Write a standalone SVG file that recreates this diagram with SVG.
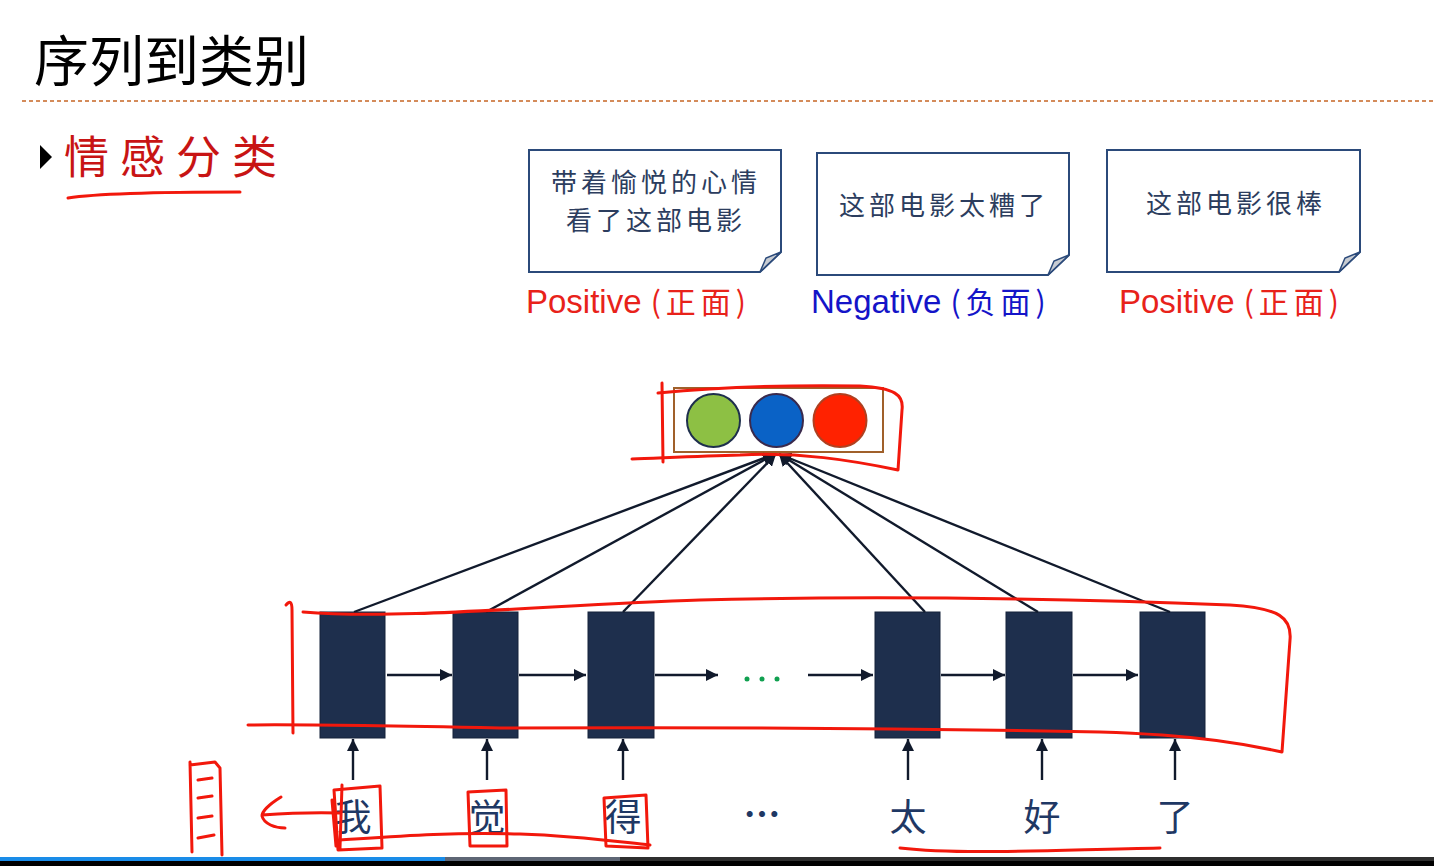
<svg xmlns="http://www.w3.org/2000/svg" width="1434" height="866" viewBox="0 0 1434 866">
<defs>
<style>
.cell{fill:#1E2F4D;stroke:#15223A;stroke-width:1}
.conn{stroke:#111a2c;stroke-width:2.4;fill:none}
.note{fill:#fff;stroke:#2B4A7A;stroke-width:2}
.fold{fill:#c8ccd2;stroke:#2B4A7A;stroke-width:1.5}
.kt{font-family:"Noto Sans CJK SC","Noto Sans CJK TC",sans-serif;fill:#2C3D5E}
.lbl{font-family:"Liberation Sans","Noto Sans CJK SC",sans-serif;font-size:33px}
.par{font-family:"Noto Sans CJK SC",sans-serif;font-size:30px;letter-spacing:5px}
.word{font-family:"Noto Sans CJK SC",serif;font-size:37px;fill:#1F3864;text-anchor:middle}
.ink{fill:none;stroke:#F2180C;stroke-width:3;stroke-linecap:round;stroke-linejoin:round}
</style>
<marker id="ah" viewBox="0 0 10 10" refX="10" refY="5" markerWidth="5" markerHeight="5" orient="auto" markerUnits="strokeWidth">
<path d="M0,0 L10,5 L0,10 Z" fill="#111a2c"/>
</marker>
</defs>
<rect width="1434" height="866" fill="#fff"/>

<g id="title">
<text x="34" y="81" font-family="Noto Sans CJK SC,sans-serif" font-size="55" fill="#000">序列到类别</text>
<line x1="22" y1="101" x2="1434" y2="101" stroke="#D48B5A" stroke-width="2" stroke-dasharray="4,3"/>
</g>

<g id="bullet">
<path d="M40,145 L52,157 L40,169 Z" fill="#000"/>
<text x="64" y="174" font-family="Noto Sans CJK SC,sans-serif" font-size="45" fill="#C81414" letter-spacing="11">情感分类</text>
</g>

<g id="note1">
<path class="note" d="M529,150 H781 V252 L760,272 H529 Z"/>
<path class="fold" d="M760,272 L766,258 L781,252 Z"/>
<text class="kt" x="656" y="192" font-size="26" text-anchor="middle" letter-spacing="4">带着愉悦的心情</text>
<text class="kt" x="656" y="230" font-size="26" text-anchor="middle" letter-spacing="4">看了这部电影</text>
<text class="lbl" x="526" y="313" fill="#E8221A">Positive <tspan class="par">(正面)</tspan></text>
</g>

<g id="note2">
<path class="note" d="M817,153 H1069 V255 L1048,275 H817 Z"/>
<path class="fold" d="M1048,275 L1054,261 L1069,255 Z"/>
<text class="kt" x="944" y="215" font-size="26" text-anchor="middle" letter-spacing="4">这部电影太糟了</text>
<text class="lbl" x="811" y="313" fill="#1414C8">Negative <tspan class="par">(负面)</tspan></text>
</g>

<g id="note3">
<path class="note" d="M1107,150 H1360 V252 L1339,272 H1107 Z"/>
<path class="fold" d="M1339,272 L1345,258 L1360,252 Z"/>
<text class="kt" x="1236" y="213" font-size="26" text-anchor="middle" letter-spacing="4">这部电影很棒</text>
<text class="lbl" x="1119" y="313" fill="#E8221A">Positive <tspan class="par">(正面)</tspan></text>
</g>

<g id="output">
<rect x="674" y="388" width="209" height="64" fill="#fff" stroke="#A0602A" stroke-width="2"/>
<circle cx="713.5" cy="420.5" r="26.5" fill="#8DC044" stroke="#1E2F4D" stroke-width="2"/>
<circle cx="776.5" cy="420.5" r="26.5" fill="#0A62C6" stroke="#3A2A4D" stroke-width="2"/>
<circle cx="840" cy="420.5" r="26.5" fill="#FF2200" stroke="#B04020" stroke-width="2"/>
</g>

<g id="cells">
<rect class="cell" x="320" y="612" width="65" height="126"/>
<rect class="cell" x="453" y="612" width="65" height="126"/>
<rect class="cell" x="588" y="612" width="66" height="126"/>
<rect class="cell" x="875" y="612" width="65" height="126"/>
<rect class="cell" x="1006" y="612" width="66" height="126"/>
<rect class="cell" x="1140" y="612" width="65" height="126"/>
</g>

<g id="dots">
<circle cx="747" cy="679" r="2.5" fill="#10A050"/>
<circle cx="762" cy="679" r="2.5" fill="#10A050"/>
<circle cx="777" cy="679" r="2.5" fill="#10A050"/>
</g>

<g id="words">
<text class="word" x="353" y="831">我</text>
<text class="word" x="487" y="831">觉</text>
<text class="word" x="623" y="831">得</text>
<text class="word" x="762" y="828" font-family="Liberation Sans,sans-serif" font-size="30" font-weight="bold">…</text>
<text class="word" x="908" y="831">太</text>
<text class="word" x="1042" y="831">好</text>
<text class="word" x="1175" y="831">了</text>
</g>

<g id="connectors">
<line class="conn" x1="354" y1="612" x2="775" y2="454" marker-end="url(#ah)"/>
<line class="conn" x1="486" y1="612" x2="775" y2="454" marker-end="url(#ah)"/>
<line class="conn" x1="623" y1="612" x2="776" y2="454" marker-end="url(#ah)"/>
<line class="conn" x1="925" y1="612" x2="779" y2="454" marker-end="url(#ah)"/>
<line class="conn" x1="1038" y1="612" x2="779" y2="454" marker-end="url(#ah)"/>
<line class="conn" x1="1170" y1="612" x2="779" y2="454" marker-end="url(#ah)"/>
<line class="conn" x1="387" y1="675" x2="452" y2="675" marker-end="url(#ah)"/>
<line class="conn" x1="519" y1="675" x2="586" y2="675" marker-end="url(#ah)"/>
<line class="conn" x1="655" y1="675" x2="718" y2="675" marker-end="url(#ah)"/>
<line class="conn" x1="808" y1="675" x2="873" y2="675" marker-end="url(#ah)"/>
<line class="conn" x1="941" y1="675" x2="1005" y2="675" marker-end="url(#ah)"/>
<line class="conn" x1="1073" y1="675" x2="1138" y2="675" marker-end="url(#ah)"/>
<line class="conn" x1="353" y1="780" x2="353" y2="739" marker-end="url(#ah)"/>
<line class="conn" x1="487" y1="780" x2="487" y2="739" marker-end="url(#ah)"/>
<line class="conn" x1="623" y1="780" x2="623" y2="739" marker-end="url(#ah)"/>
<line class="conn" x1="908" y1="780" x2="908" y2="739" marker-end="url(#ah)"/>
<line class="conn" x1="1042" y1="780" x2="1042" y2="739" marker-end="url(#ah)"/>
<line class="conn" x1="1175" y1="780" x2="1175" y2="739" marker-end="url(#ah)"/>
</g>

<g id="annotations">
<path class="ink" d="M68,198 C100,193 170,192 240,192"/>
<path class="ink" d="M658,393 C720,387 800,385 860,386 C895,388 904,395 902,410 L898,470 C850,460 800,452 740,455 C700,456 660,458 632,459"/>
<path class="ink" d="M662,383 L663,462"/>
<path class="ink" d="M303,612 C400,620 550,605 700,600 C900,595 1100,600 1230,605 C1280,608 1292,618 1290,640 L1282,752 C1250,745 1200,735 1100,732 C900,728 700,727 500,728 C400,726 300,724 248,725"/>
<path class="ink" d="M286,605 C290,600 292,602 292,610 L293,733"/>
<path class="ink" d="M334,790 L380,786 L382,848 L338,850 Z M332,800 L336,846 M342,785 L340,848"/>
<path class="ink" d="M468,792 L506,790 L507,846 L470,846 Z"/>
<path class="ink" d="M604,798 L646,795 L648,848 L606,846 Z"/>
<path class="ink" d="M340,840 C400,836 450,832 520,834 C580,836 620,842 650,845"/>
<path class="ink" d="M262,815 C290,813 310,812 340,813 M281,797 C268,805 262,812 262,816 C264,824 275,828 285,828"/>
<path class="ink" d="M190,762 L192,852 M190,765 L215,762 L220,768 L222,855 M198,780 L212,778 M198,798 L212,796 M198,818 L212,816 M198,838 L214,835"/>
<path class="ink" d="M900,848 C960,855 1050,850 1160,848"/>
</g>

<g id="progress">
<rect x="0" y="857" width="445" height="4" fill="#1A8CE8"/>
<rect x="445" y="857" width="175" height="4" fill="#5E6675"/>
<rect x="620" y="857" width="814" height="4" fill="#2E2E2E"/>
<rect x="0" y="861" width="1434" height="5" fill="#000"/>
</g>
</svg>
